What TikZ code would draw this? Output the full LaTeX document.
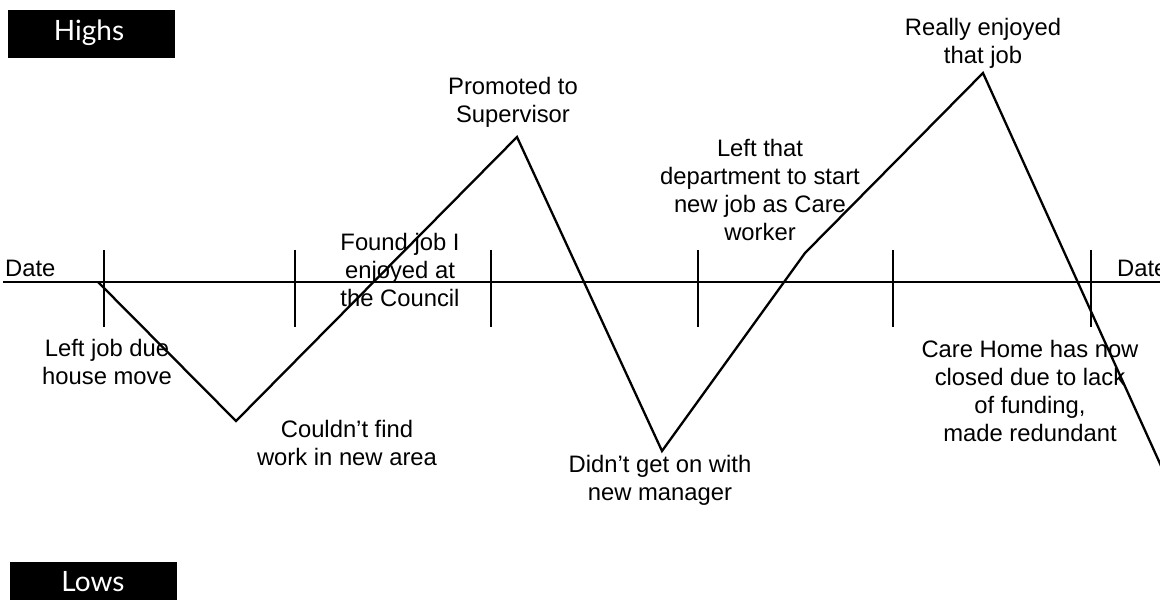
\documentclass[tikz,border=0pt]{standalone}
\usepackage{fontspec}
\setmainfont{Liberation Sans}
\newfontfamily\gillfont{Lato}
\begin{document}
\begin{tikzpicture}[x=1pt,y=-1pt,
  lbl/.style={align=center,inner sep=0pt,font=\fontsize{23.8}{28}\selectfont},
  banner/.style={fill=black,text=white,inner sep=0pt,font=\gillfont\fontsize{28}{30}\selectfont},
  ln/.style={line width=2.3pt},
  tick/.style={line width=2.3pt}]
\useasboundingbox (0,0) rectangle (1160,614);
% banners
\fill (8,10) rectangle (175,58);
\node[banner] (highs) at (89,33) {Highs};
\fill (10,562) rectangle (177,600);
\node[banner] (lows) at (93,582) {Lows};
% axis
\coordinate (axL) at (3,282);
\coordinate (axR) at (1160,282);
\draw[ln] (axL) -- (axR);
\foreach \x/\n in {104/t1,295/t2,491/t3,698/t4,893/t5,1091/t6}{
  \coordinate (\n a) at (\x,250);
  \coordinate (\n b) at (\x,327);
  \draw[tick] (\n a) -- (\n b);
}
\node[lbl,anchor=west] (dateL) at (5,268) {Date};
\node[lbl,anchor=west] (dateR) at (1117,268) {Date};
% zigzag
\coordinate (p1) at (98,282);
\coordinate (p2) at (236,421);
\coordinate (p3) at (517,137);
\coordinate (p4) at (662,451);
\coordinate (p5) at (805,253);
\coordinate (p6) at (983,73);
\coordinate (p7) at (1162,468);
\draw[ln,line join=miter] (p1) -- (p2) -- (p3) -- (p4) -- (p5) -- (p6) -- (p7);
% labels
\node[lbl] (l1) at (107,362) {Left job due\\house move};
\node[lbl] (l2) at (347,443) {Couldn't find\\work in new area};
\node[lbl] (l3) at (400,270) {Found job I\\enjoyed at\\the Council};
\node[lbl] (l4) at (513,102) {Promoted to\\Supervisor};
\node[lbl] (l5) at (760,190) {Left that\\department to start\\new job as Care\\worker};
\node[lbl] (l6) at (983,43) {Really enjoyed\\that job};
\node[lbl] (l7) at (660,480) {Didn't get on with\\new manager};
\node[lbl] (l8) at (1030,391) {Care Home has now\\closed due to lack\\of funding,\\made redundant};
\end{tikzpicture}
\end{document}
